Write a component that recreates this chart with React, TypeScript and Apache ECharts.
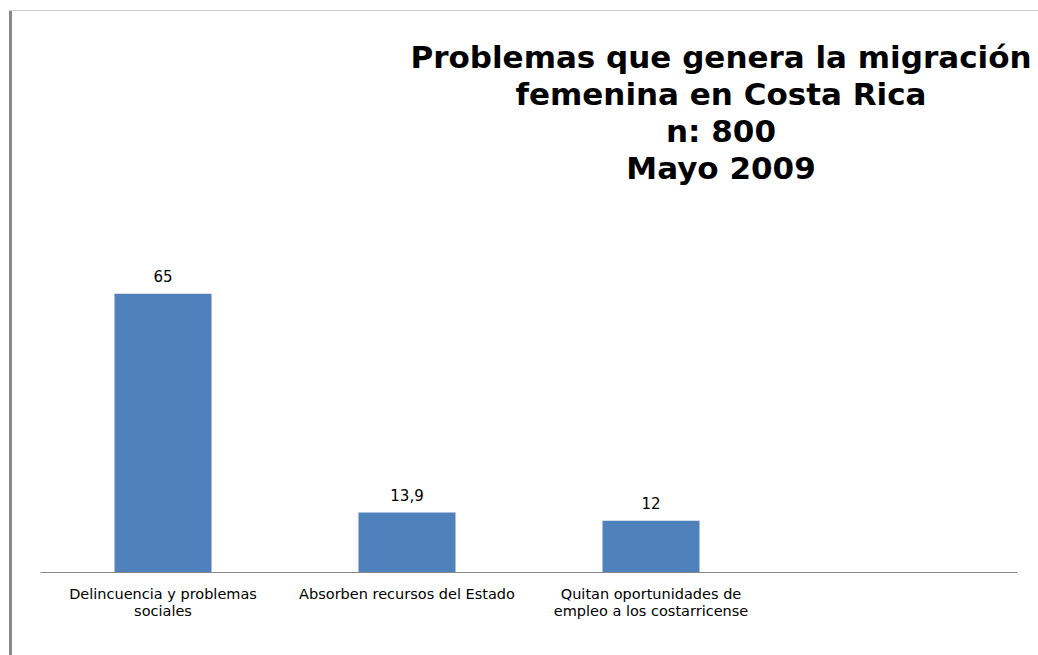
import React, { useEffect, useRef } from "react";
import * as echarts from "echarts";

const titleLines = [
  "Problemas que genera la migración",
  "femenina en Costa Rica",
  "n: 800",
  "Mayo 2009",
];
const categories = [
  "Delincuencia y problemas\nsociales",
  "Absorben recursos del Estado",
  "Quitan oportunidades de\nempleo a los costarricense",
];
const values = [65, 13.9, 12];

export default function App() {
  const ref = useRef<HTMLDivElement>(null);
  useEffect(() => {
    if (!ref.current) return;
    const chart = echarts.init(ref.current, undefined, { renderer: "svg" });
    chart.setOption({
      animation: false,
      backgroundColor: "#ffffff",
      title: {
        text: titleLines.join("\n"),
        left: 716,
        top: 33,
        textAlign: "center",
        textStyle: {
          fontFamily: "DejaVu Sans",
          fontWeight: "bold",
          fontSize: 31,
          lineHeight: 37,
          color: "#000000",
        },
      },
      graphic: [
        {
          type: "rect",
          shape: { x: 9, y: 10, width: 1029, height: 1 },
          style: { fill: "#d0d0d0" },
        },
        {
          type: "rect",
          shape: { x: 9, y: 11, width: 3, height: 644 },
          style: { fill: "#888888" },
        },
      ],
      grid: { left: 41, right: 21, top: 272.4, bottom: 83 },
      xAxis: {
        type: "category",
        data: categories,
        max: 3,
        axisLine: { lineStyle: { color: "#868686", width: 1 } },
        axisTick: { show: false },
        axisLabel: {
          interval: 0,
          margin: 13,
          fontFamily: "DejaVu Sans",
          fontSize: 14.5,
          lineHeight: 17,
          color: "#000000",
        },
      },
      yAxis: {
        type: "value",
        min: 0,
        max: 70,
        show: false,
        splitLine: { show: false },
      },
      series: [
        {
          type: "bar",
          data: values,
          barWidth: 97,
          itemStyle: { color: "#4F81BD" },
          label: {
            show: true,
            position: "top",
            distance: 9,
            fontFamily: "DejaVu Sans",
            fontSize: 15,
            color: "#000000",
            formatter: (p: any) => String(p.value).replace(".", ","),
          },
        },
      ],
    });
    return () => chart.dispose();
  }, []);
  return (
    <div
      ref={ref}
      style={{ position: "absolute", left: 0, top: 0, width: 1038, height: 655 }}
    />
  );
}
